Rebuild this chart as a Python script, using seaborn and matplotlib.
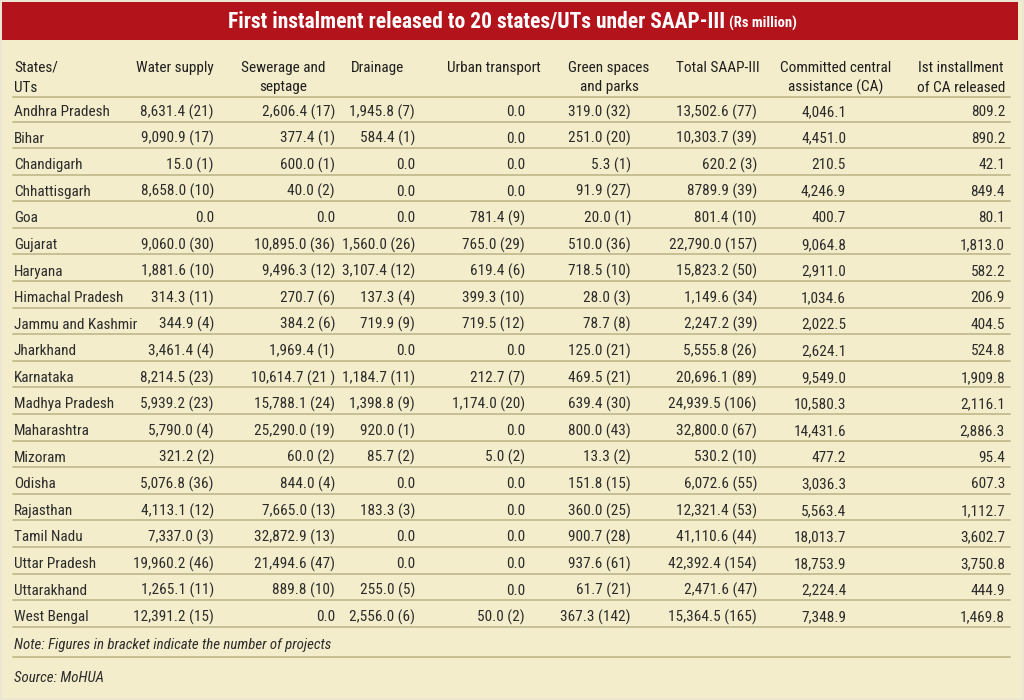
import matplotlib
matplotlib.use("Agg")
import matplotlib.pyplot as plt
import seaborn as sns
from matplotlib import font_manager
from matplotlib.patches import Rectangle

# table data (Rs million, number of projects in brackets)
states = ["Andhra Pradesh", "Bihar", "Chandigarh", "Chhattisgarh", "Goa", "Gujarat",
          "Haryana", "Himachal Pradesh", "Jammu and Kashmir", "Jharkhand", "Karnataka",
          "Madhya Pradesh", "Maharashtra", "Mizoram", "Odisha", "Rajasthan", "Tamil Nadu",
          "Uttar Pradesh", "Uttarakhand", "West Bengal"]
water_supply = ["8,631.4 (21)", "9,090.9 (17)", "15.0 (1)", "8,658.0 (10)", "0.0",
                "9,060.0 (30)", "1,881.6 (10)", "314.3 (11)", "344.9 (4)", "3,461.4 (4)",
                "8,214.5 (23)", "5,939.2 (23)", "5,790.0 (4)", "321.2 (2)", "5,076.8 (36)",
                "4,113.1 (12)", "7,337.0 (3)", "19,960.2 (46)", "1,265.1 (11)", "12,391.2 (15)"]
sewerage = ["2,606.4 (17)", "377.4 (1)", "600.0 (1)", "40.0 (2)", "0.0", "10,895.0 (36)",
            "9,496.3 (12)", "270.7 (6)", "384.2 (6)", "1,969.4 (1)", "10,614.7 (21 )",
            "15,788.1 (24)", "25,290.0 (19)", "60.0 (2)", "844.0 (4)", "7,665.0 (13)",
            "32,872.9 (13)", "21,494.6 (47)", "889.8 (10)", "0.0"]
drainage = ["1,945.8 (7)", "584.4 (1)", "0.0", "0.0", "0.0", "1,560.0 (26)", "3,107.4 (12)",
            "137.3 (4)", "719.9 (9)", "0.0", "1,184.7 (11)", "1,398.8 (9)", "920.0 (1)",
            "85.7 (2)", "0.0", "183.3 (3)", "0.0", "0.0", "255.0 (5)", "2,556.0 (6)"]
urban_transport = ["0.0", "0.0", "0.0", "0.0", "781.4 (9)", "765.0 (29)", "619.4 (6)",
                   "399.3 (10)", "719.5 (12)", "0.0", "212.7 (7)", "1,174.0 (20)", "0.0",
                   "5.0 (2)", "0.0", "0.0", "0.0", "0.0", "0.0", "50.0 (2)"]
green_spaces = ["319.0 (32)", "251.0 (20)", "5.3 (1)", "91.9 (27)", "20.0 (1)", "510.0 (36)",
                "718.5 (10)", "28.0 (3)", "78.7 (8)", "125.0 (21)", "469.5 (21)", "639.4 (30)",
                "800.0 (43)", "13.3 (2)", "151.8 (15)", "360.0 (25)", "900.7 (28)",
                "937.6 (61)", "61.7 (21)", "367.3 (142)"]
total_saap = ["13,502.6 (77)", "10,303.7 (39)", "620.2 (3)", "8789.9 (39)", "801.4 (10)",
              "22,790.0 (157)", "15,823.2 (50)", "1,149.6 (34)", "2,247.2 (39)", "5,555.8 (26)",
              "20,696.1 (89)", "24,939.5 (106)", "32,800.0 (67)", "530.2 (10)", "6,072.6 (55)",
              "12,321.4 (53)", "41,110.6 (44)", "42,392.4 (154)", "2,471.6 (47)", "15,364.5 (165)"]
committed_ca = ["4,046.1", "4,451.0", "210.5", "4,246.9", "400.7", "9,064.8", "2,911.0",
                "1,034.6", "2,022.5", "2,624.1", "9,549.0", "10,580.3", "14,431.6", "477.2",
                "3,036.3", "5,563.4", "18,013.7", "18,753.9", "2,224.4", "7,348.9"]
first_ca = ["809.2", "890.2", "42.1", "849.4", "80.1", "1,813.0", "582.2", "206.9", "404.5",
            "524.8", "1,909.8", "2,116.1", "2,886.3", "95.4", "607.3", "1,112.7", "3,602.7",
            "3,750.8", "444.9", "1,469.8"]

headers = [["States/", "UTs"], ["Water supply"], ["Sewerage and", "septage"], ["Drainage"],
           ["Urban transport"], ["Green spaces", "and parks"], ["Total SAAP-III"],
           ["Committed central", "assistance (CA)"], ["Ist installment", "of CA released"]]

title = "First instalment released to 20 states/UTs under SAAP-III"
title_unit = "(Rs million)"
note = "Note: Figures in bracket indicate the number of projects"
source = "Source: MoHUA"

columns = [states, water_supply, sewerage, drainage, urban_transport, green_spaces,
           total_saap, committed_ca, first_ca]

# layout (pixel coordinates)
value_x = [14, 214, 335, 415, 525, 631, 757, 846, 1005]
value_ha = ["left"] + ["right"] * 8
header_x = [14, 175, 283, 377, 494, 609, 718, 836, 961]
header_ha = ["left"] + ["center"] * 8

bg = "#f3edcb"
red = "#b3141c"
rule = "#c5bb90"
ink = "#2b2b2b"

sns.set_theme(style="white")
# pick a narrow face if one is installed
installed = {f.name for f in font_manager.fontManager.ttflist}
prefs = ["Roboto Condensed", "Liberation Sans Narrow", "Open Sans Condensed",
         "DejaVu Sans Condensed", "Liberation Sans", "Roboto"]
face = next((p for p in prefs if p in installed), "DejaVu Sans")
plt.rcParams["font.family"] = [face, "DejaVu Sans"]

fig = plt.figure(figsize=(10.24, 7), dpi=100, facecolor="#ece7d3")
ax = fig.add_axes([0, 0, 1, 1])
ax.set_xlim(0, 1024)
ax.set_ylim(700, 0)
ax.axis("off")
r = fig.canvas.get_renderer()


def fit_size(text, target_px, **kw):
    probe = ax.text(0, 0, text, fontsize=10, **kw)
    w = probe.get_window_extent(r).width
    probe.remove()
    return 10 * target_px / w


fs = min(fit_size("Andhra Pradesh", 96), 11.5)
fs_title = min(fit_size(title, 497, fontweight="bold"), 16)

ax.add_patch(Rectangle((2, 2), 1020, 696, facecolor=bg, edgecolor="none"))
ax.add_patch(Rectangle((2, 2), 1016, 38, facecolor=red, edgecolor="none"))

# title, centred as a whole
t1 = ax.text(0, 22, title, color="white", fontsize=fs_title, fontweight="bold",
             ha="left", va="center")
t2 = ax.text(0, 23.5, title_unit, color="white", fontsize=fs_title * 0.68,
             fontweight="bold", ha="left", va="center")
w1 = t1.get_window_extent(r).width
w2 = t2.get_window_extent(r).width
gap = 4
start = 512 - (w1 + gap + w2) / 2
t1.set_x(start)
t2.set_x(start + w1 + gap)

for hx, ha, lines in zip(header_x, header_ha, headers):
    for j, line in enumerate(lines):
        ax.text(hx, 68 + j * 19.5, line, fontsize=fs, color="#1e1e1e", ha=ha, va="center")

ax.plot([13, 1010], [96.5, 96.5], color=rule, lw=1.3)

row_h = 26.59
for i in range(len(states)):
    bottom = 121.5 + i * row_h
    yc = bottom - 9.5
    for col, x, ha in zip(columns, value_x, value_ha):
        ax.text(x, yc, col[i], fontsize=fs, color=ink, ha=ha, va="center")
    ax.plot([13, 1010], [bottom, bottom], color=rule, lw=1.3)

ax.text(14, 645, note, fontsize=fs * 0.97, style="italic", color=ink, ha="left", va="center")
ax.plot([13, 1010], [657, 657], color=rule, lw=1.3)
ax.text(14, 678, source, fontsize=fs * 0.97, style="italic", color=ink, ha="left", va="center")

fig.savefig("out.png", dpi=100, facecolor=fig.get_facecolor())
